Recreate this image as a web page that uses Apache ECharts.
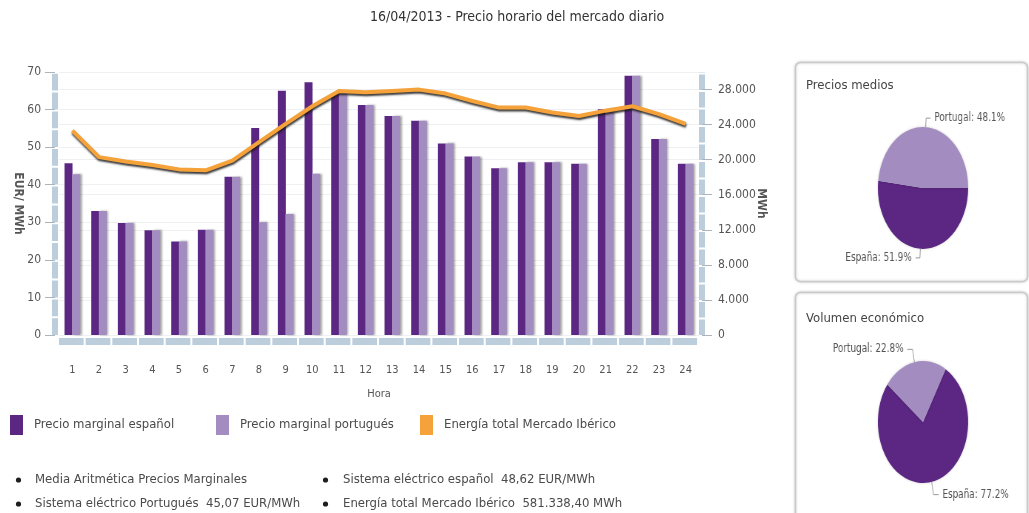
<!DOCTYPE html>
<html>
<head>
<meta charset="utf-8">
<script src="https://cdn.jsdelivr.net/npm/echarts@6/dist/echarts.min.js"></script>
<style>
  html, body { margin: 0; padding: 0; background: #fff; overflow: hidden; width: 1029px; height: 513px; }
  #main { position: absolute; left: 0; top: 0; width: 1029px; height: 513px; }
  /* pie layer is squeezed horizontally so the pies come out as tall ellipses */
  #pies { position: absolute; left: 0; top: 0; width: 1100px; height: 513px;
          transform-origin: 923px 0; transform: scaleX(0.74); pointer-events: none; }
</style>
</head>
<body>
<div id="main"></div>
<div id="pies"></div>
<script>
// Hourly data, 16/04/2013
const hours = ['1','2','3','4','5','6','7','8','9','10','11','12','13','14','15','16','17','18','19','20','21','22','23','24'];
// Precio marginal (EUR/MWh)
const spainPrice = [45.7, 33.0, 29.8, 27.9, 24.9, 28.0, 42.1, 55.1, 65.0, 67.3, 64.2, 61.2,
                    58.3, 57.0, 51.0, 47.5, 44.4, 46.0, 46.0, 45.6, 60.1, 69.0, 52.2, 45.6];
const portugalPrice = [42.8, 33.0, 29.8, 27.9, 24.9, 28.0, 42.1, 30.0, 32.2, 42.9, 64.2, 61.2,
                       58.3, 57.0, 51.0, 47.5, 44.4, 46.0, 46.0, 45.6, 60.1, 69.0, 52.2, 45.6];
// Energía total Mercado Ibérico (MWh)
const energy = [23318.4, 20290, 19790, 19390, 18890, 18790, 19890, 21990, 24090, 26090, 27840, 27690,
                27840, 27990, 27540, 26690, 25940, 25940, 25390, 24990, 25590, 26090, 25190, 24090];
// Volumen económico share (%)
const volumeShare = { 'España': 77.2, 'Portugal': 22.8 };

const FONT = '"DejaVu Sans Condensed", "DejaVu Sans", sans-serif';
const DARK = '#5b2782';
const LIGHT = '#a38cc0';
const ORANGE = '#f5a23a';
const AXISBAR = '#bccddb';
const TEXT = '#4a4a4a';

const sum = a => a.reduce((s, v) => s + v, 0);
const groupThousands = s => s.replace(/\B(?=(\d{3})+(?!\d))/g, '.');
const fmtEs = (v, d) => {
  const [i, f] = v.toFixed(d).split('.');
  return groupThousands(i) + (f ? ',' + f : '');
};

const avgES = sum(spainPrice) / spainPrice.length;
const avgPT = sum(portugalPrice) / portugalPrice.length;
const totalEnergy = sum(energy);

const main = echarts.init(document.getElementById('main'), null, { renderer: 'canvas' });

const textStyleBase = { fontFamily: FONT, color: '#555' };
const legendCommon = {
  top: 415, padding: 0, icon: 'rect', itemWidth: 13, itemHeight: 20,
  textStyle: { fontFamily: FONT, fontSize: 13, color: TEXT, padding: [0, 0, 0, 6] }
};

const bullet = (x, y) => ({ type: 'circle', shape: { cx: x, cy: y, r: 2.6 }, style: { fill: '#1e1e1e' } });
const line = (x, y, text) => ({ type: 'text', x, y,
  style: { text, font: '13px ' + FONT, fill: TEXT, verticalAlign: 'middle' } });

main.setOption({
  animation: false,
  backgroundColor: '#fff',
  title: {
    text: '16/04/2013 - Precio horario del mercado diario',
    left: 370, top: 10, padding: 0,
    textStyle: { fontFamily: FONT, fontSize: 14, fontWeight: 'normal', color: '#333' }
  },
  legend: [
    Object.assign({ left: 10, data: ['Precio marginal español'] }, legendCommon),
    Object.assign({ left: 216, data: ['Precio marginal portugués'] }, legendCommon),
    Object.assign({ left: 420, data: ['Energía total Mercado Ibérico'] }, legendCommon)
  ],
  grid: { left: 59, right: 330, top: 72, bottom: 178, containLabel: false, outerBoundsMode: 'none' },
  xAxis: {
    type: 'category', data: hours, boundaryGap: true, offset: 6,
    axisLine: { show: true, onZero: false, lineStyle: { color: AXISBAR, width: 7, type: [24.67, 2], cap: 'butt' } },
    axisTick: { show: false },
    axisLabel: { margin: 24, fontSize: 11, ...textStyleBase },
    name: 'Hora', nameLocation: 'middle', nameGap: 48, nameMoveOverlap: false,
    nameTextStyle: { fontSize: 11, ...textStyleBase }
  },
  yAxis: [
    {
      type: 'value', min: 0, max: 70, interval: 10, position: 'left', offset: 4,
      axisLine: { show: true, lineStyle: { color: AXISBAR, width: 6, type: [16.8, 2], cap: 'butt' } },
      axisTick: { show: true, length: 10, lineStyle: { color: '#a9b4bf', width: 1 } },
      axisLabel: { margin: 14, fontSize: 12, ...textStyleBase },
      splitLine: { show: true, lineStyle: { color: '#eef0f3', width: 1 } },
      name: 'EUR/ MWh', nameLocation: 'middle', nameRotate: -90, nameGap: 31, nameMoveOverlap: false,
      nameTextStyle: { fontSize: 12, fontWeight: 'bold', ...textStyleBase }
    },
    {
      type: 'value', min: 0, max: 30000, interval: 4000, position: 'right', offset: 3,
      axisLine: { show: true, lineStyle: { color: AXISBAR, width: 6, type: [15.5, 2], cap: 'butt' } },
      axisTick: { show: true, length: 10, lineStyle: { color: '#a9b4bf', width: 1 } },
      axisLabel: { margin: 16, fontSize: 12, showMaxLabel: false, ...textStyleBase,
                   formatter: v => groupThousands(String(v)) },
      splitLine: { show: true, lineStyle: { color: '#eef0f3', width: 1 } },
      name: 'MWh', nameLocation: 'middle', nameRotate: -90, nameGap: 53, nameMoveOverlap: false,
      nameTextStyle: { fontSize: 12, fontWeight: 'bold', ...textStyleBase }
    }
  ],
  series: [
    {
      name: 'Precio marginal español', type: 'bar', yAxisIndex: 0,
      data: spainPrice, barWidth: 8, barGap: '-5%',
      itemStyle: { color: DARK }
    },
    {
      name: 'Precio marginal portugués', type: 'bar', yAxisIndex: 0,
      data: portugalPrice, barWidth: 8,
      itemStyle: { color: LIGHT, shadowColor: 'rgba(0,0,0,0.35)', shadowBlur: 2, shadowOffsetX: 1.5 }
    },
    {
      name: 'Energía total Mercado Ibérico', type: 'line', yAxisIndex: 1,
      data: energy, symbol: 'none', showSymbol: false, z: 5,
      itemStyle: { color: ORANGE },
      lineStyle: { color: ORANGE, width: 4, shadowColor: 'rgba(25,25,25,0.85)',
                   shadowBlur: 2, shadowOffsetY: 2, shadowOffsetX: 0.5 }
    }
  ],
  graphic: [
    // side panels
    { type: 'rect', z: -10, shape: { x: 795.5, y: 62.5, width: 232, height: 219, r: 5 },
      style: { fill: '#fff', stroke: '#c9c9c9', lineWidth: 1.5, shadowBlur: 3, shadowColor: 'rgba(0,0,0,0.18)' } },
    { type: 'rect', z: -10, shape: { x: 795.5, y: 292.5, width: 232, height: 240, r: 5 },
      style: { fill: '#fff', stroke: '#c9c9c9', lineWidth: 1.5, shadowBlur: 3, shadowColor: 'rgba(0,0,0,0.18)' } },
    { type: 'text', x: 806, y: 86,
      style: { text: 'Precios medios', font: '13px ' + FONT, fill: '#444', verticalAlign: 'middle' } },
    { type: 'text', x: 806, y: 319,
      style: { text: 'Volumen económico', font: '13px ' + FONT, fill: '#444', verticalAlign: 'middle' } },
    // summary lines
    bullet(18.5, 480), bullet(18.5, 504), bullet(325.5, 480), bullet(325.5, 504),
    line(35, 480, 'Media Aritmética Precios Marginales'),
    line(35, 504, 'Sistema eléctrico Portugués  ' + fmtEs(avgPT, 2) + ' EUR/MWh'),
    line(343, 480, 'Sistema eléctrico español  ' + fmtEs(avgES, 2) + ' EUR/MWh'),
    line(343, 504, 'Energía total Mercado Ibérico  ' + fmtEs(totalEnergy, 2) + ' MWh')
  ]
});

// Pie charts: average price split and economic volume split
const pies = echarts.init(document.getElementById('pies'), null, { renderer: 'canvas' });
const pieCommon = {
  type: 'pie', radius: 61, clockwise: true, percentPrecision: 1,
  silent: true, avoidLabelOverlap: false,
  itemStyle: { shadowBlur: 3, shadowColor: 'rgba(0,0,0,0.2)' },
  label: { show: true, position: 'outside', formatter: '{b}: {d}%',
           fontFamily: '"DejaVu Sans", sans-serif', fontSize: 12, color: '#555' },
  labelLine: { show: true, length: 9, length2: 6, lineStyle: { color: '#999', width: 1 } },
  emphasis: { disabled: true }
};
pies.setOption({
  animation: false,
  series: [
    Object.assign({}, pieCommon, {
      center: [923, 188], startAngle: 0,
      data: [
        { name: 'España', value: avgES, itemStyle: { color: DARK } },
        { name: 'Portugal', value: avgPT, itemStyle: { color: LIGHT } }
      ]
    }),
    Object.assign({}, pieCommon, {
      center: [923, 422], startAngle: 60,
      labelLine: { show: true, length: 13, length2: 7, lineStyle: { color: '#999', width: 1 } },
      data: [
        { name: 'España', value: volumeShare['España'], itemStyle: { color: DARK } },
        { name: 'Portugal', value: volumeShare['Portugal'], itemStyle: { color: LIGHT } }
      ]
    })
  ]
});
</script>
</body>
</html>
